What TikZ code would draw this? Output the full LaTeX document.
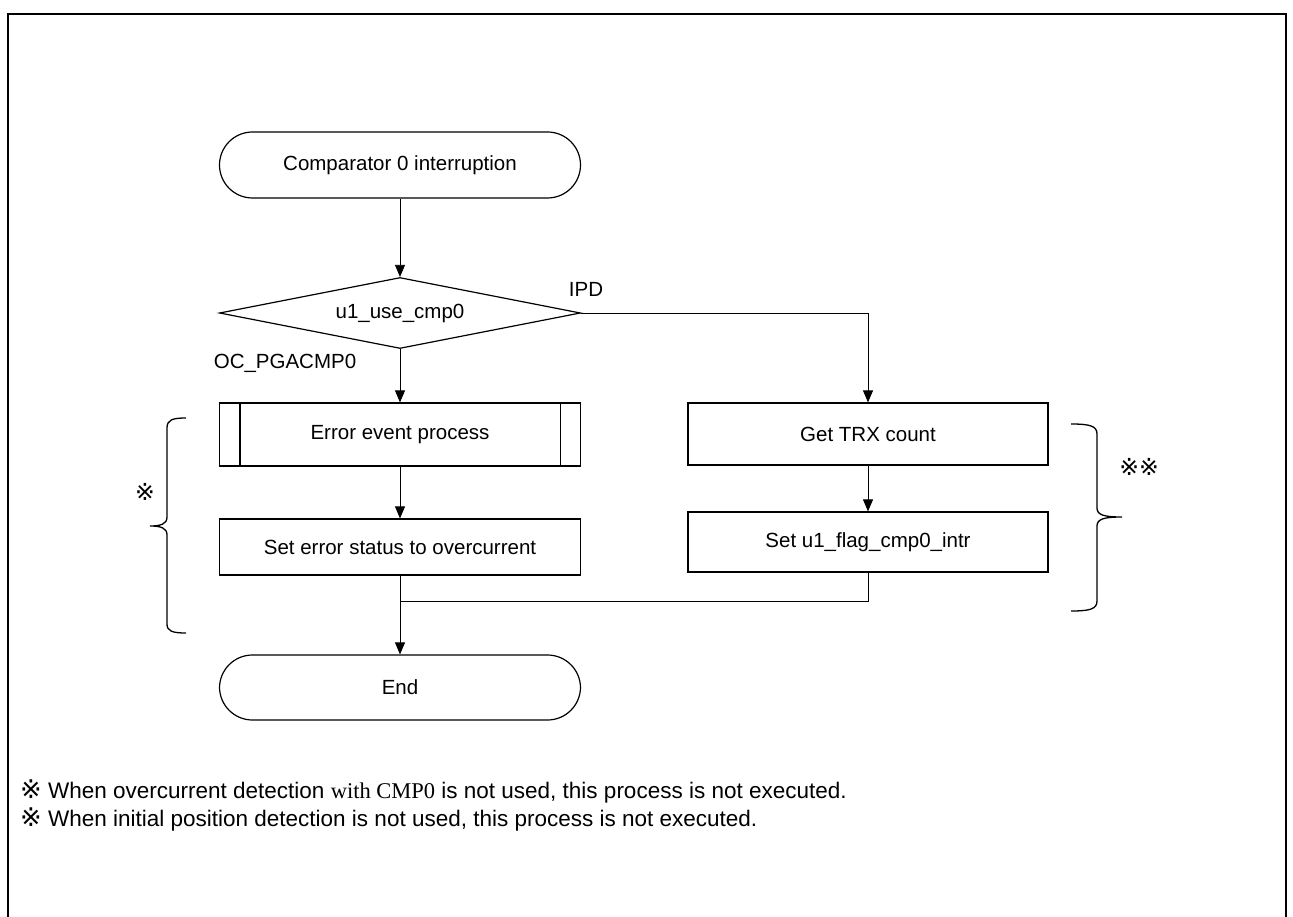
\documentclass[tikz,border=0pt]{standalone}
\usepackage{fontspec}
\setmainfont{Liberation Sans}
\newfontfamily\serifpart{Liberation Serif}
\newfontfamily\markfont[Scale=1.15]{DejaVu Sans}
\usetikzlibrary{shapes.geometric, arrows.meta, positioning}
\newcommand{\kome}{{\markfont ※}}

\begin{document}
\begin{tikzpicture}[x=1pt, y=-1pt,
    font=\fontsize{20.5}{24}\selectfont,
    term/.style={draw, line width=1.2pt, rounded corners=33pt, minimum width=361pt, minimum height=66pt, inner sep=0pt},
    decision/.style={draw, line width=1.2pt, diamond, shape aspect=5.08, minimum width=361pt, minimum height=71pt, inner sep=0pt},
    proc/.style={draw, line width=1.2pt, rectangle, minimum width=361pt, minimum height=60pt, inner sep=0pt},
    flow/.style={line width=0.8pt, -{Triangle[length=12pt, width=10pt]}},
    brc/.style={line width=1.3pt},
    note/.style={anchor=west, inner sep=0pt, font=\fontsize{22.5}{26}\selectfont}]
    \useasboundingbox (0,0) rectangle (1293,917);
    \draw[line width=2pt] (8,14) rectangle (1286,940);
    % main column
    \node[term] (start) at (400,165) {Comparator 0 interruption};
    \node[decision] (dec) at (400,313) {u1\_use\_cmp0};
    \node[proc, minimum height=63pt] (ev) at (400,434.5) {Error event process};
    \draw[line width=1.2pt] ([xshift=21pt]ev.north west) -- ([xshift=21pt]ev.south west);
    \draw[line width=1.2pt] ([xshift=-21pt]ev.north east) -- ([xshift=-21pt]ev.south east);
    \node[proc, minimum height=56pt] (st) at (400,547) {Set error status to overcurrent};
    \node[term, minimum height=65pt] (end) at (400,687.5) {End};
    % right column
    \node[proc, minimum height=62pt, minimum width=360pt] (trx) at (868,434) {Get TRX count};
    \node[proc, minimum height=60pt, minimum width=360pt] (flg) at (868,542) {Set u1\_flag\_cmp0\_intr};
    \coordinate (mrg) at (400,601);
    % connectors
    \draw[flow] (start) -- (dec);
    \draw[flow] (dec.south) -- (ev.north);
    \draw[flow] (dec.east) -| (trx.north);
    \draw[flow] (ev) -- (st);
    \draw[flow] (trx) -- (flg);
    \draw[flow] (st.south) -- (end.north);
    \draw[line width=0.8pt] (flg.south) |- (mrg);
    \node (ipd) at (586,289) {IPD};
    \node (oc) at (285,363) {OC\_PGACMP0};
    % braces
    \draw[brc] (186,418) .. controls (172,418) and (167,420) .. (167,428) -- (167,517)
        .. controls (167,524) and (161,526) .. (150,526) .. controls (161,526) and (167,528) .. (167,535)
        -- (167,624) .. controls (167,631) and (172,633) .. (186,633);
    \draw[brc] (1071,424) .. controls (1090,424) and (1097,426) .. (1097,434) -- (1097,508)
        .. controls (1097,515) and (1104,517) .. (1122,517) .. controls (1104,517) and (1097,519) .. (1097,526)
        -- (1097,601) .. controls (1097,609) and (1090,611) .. (1071,611);
    \node (m1) at (145,492) {\kome};
    \node[inner sep=0pt] (m2) at (1139,467) {\kome\kome};
    % notes
    \node[note] (n1) at (20,791) {\kome\ When overcurrent detection {\serifpart with CMP0} is not used, this process is not executed.};
    \node[note] (n2) at (20,819) {\kome\ When initial position detection is not used, this process is not executed.};
\end{tikzpicture}
\end{document}
